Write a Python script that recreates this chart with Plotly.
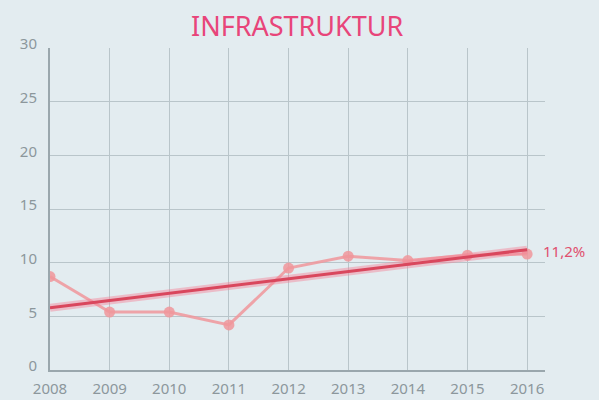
import plotly.graph_objects as go

years = [2008, 2009, 2010, 2011, 2012, 2013, 2014, 2015, 2016]
values = [8.7, 5.4, 5.4, 4.2, 9.5, 10.6, 10.2, 10.7, 10.8]
trend_years = [2008, 2016]
trend_values = [5.8, 11.2]
y_ticks = [0, 5, 10, 15, 20, 25, 30]
end_label = "11,2%"
title_text = "INFRASTRUKTUR"

fig = go.Figure()

# data series (light pink)
fig.add_trace(go.Scatter(
    x=years, y=values, mode="lines+markers",
    line=dict(color="rgba(240,150,155,0.85)", width=3),
    marker=dict(size=11, color="rgba(240,150,155,0.85)"),
    hoverinfo="skip",
))

# trend: soft glow + solid core
fig.add_trace(go.Scatter(
    x=trend_years, y=trend_values, mode="lines",
    line=dict(color="rgba(245,130,150,0.45)", width=8),
    hoverinfo="skip",
))
fig.add_trace(go.Scatter(
    x=trend_years, y=trend_values, mode="lines",
    line=dict(color="#d9475d", width=3),
    hoverinfo="skip",
))

fig.add_annotation(
    x=years[-1], y=trend_values[-1], text=end_label, showarrow=False,
    xanchor="left", xshift=14, yshift=-1,
    font=dict(family="Noto Sans", size=15, color="#e0506e"),
)

fig.add_annotation(
    x=0.5, y=1, xref="paper", yref="paper", yshift=23, text=title_text,
    showarrow=False, xanchor="center", yanchor="middle",
    font=dict(family="Liberation Sans Narrow, Noto Sans", size=27, color="#e8457a"),
)

fig.update_layout(
    width=599, height=400,
    margin=dict(l=50, r=54, t=48, b=30),
    paper_bgcolor="#e3ecf0",
    plot_bgcolor="#e3ecf0",
    showlegend=False,
    font=dict(family="Noto Sans", color="#8c979c"),
)
fig.update_xaxes(
    range=[2008, 2016.3], tickvals=years, ticktext=[str(y) for y in years],
    showgrid=True, gridcolor="#b9c5ca", gridwidth=1,
    showline=True, linecolor="#9aa7ad", linewidth=2,
    tickfont=dict(size=15, color="#8c979c"), ticks="", zeroline=False,
    automargin=False, ticklabelstandoff=4,
)
fig.update_yaxes(
    range=[0, 30], tickvals=y_ticks, ticktext=[str(v) for v in y_ticks],
    showgrid=True, gridcolor="#b9c5ca", gridwidth=1,
    showline=True, linecolor="#9aa7ad", linewidth=2,
    tickfont=dict(size=15, color="#8c979c"), ticks="", zeroline=False,
    automargin=False, ticklabelstandoff=8, ticklabelshift=-4,
)

# drop the default 8px page margin so the figure fills the window
fig.write_html("out.html", config={"displayModeBar": False},
               post_script="document.body.style.margin='0';")
